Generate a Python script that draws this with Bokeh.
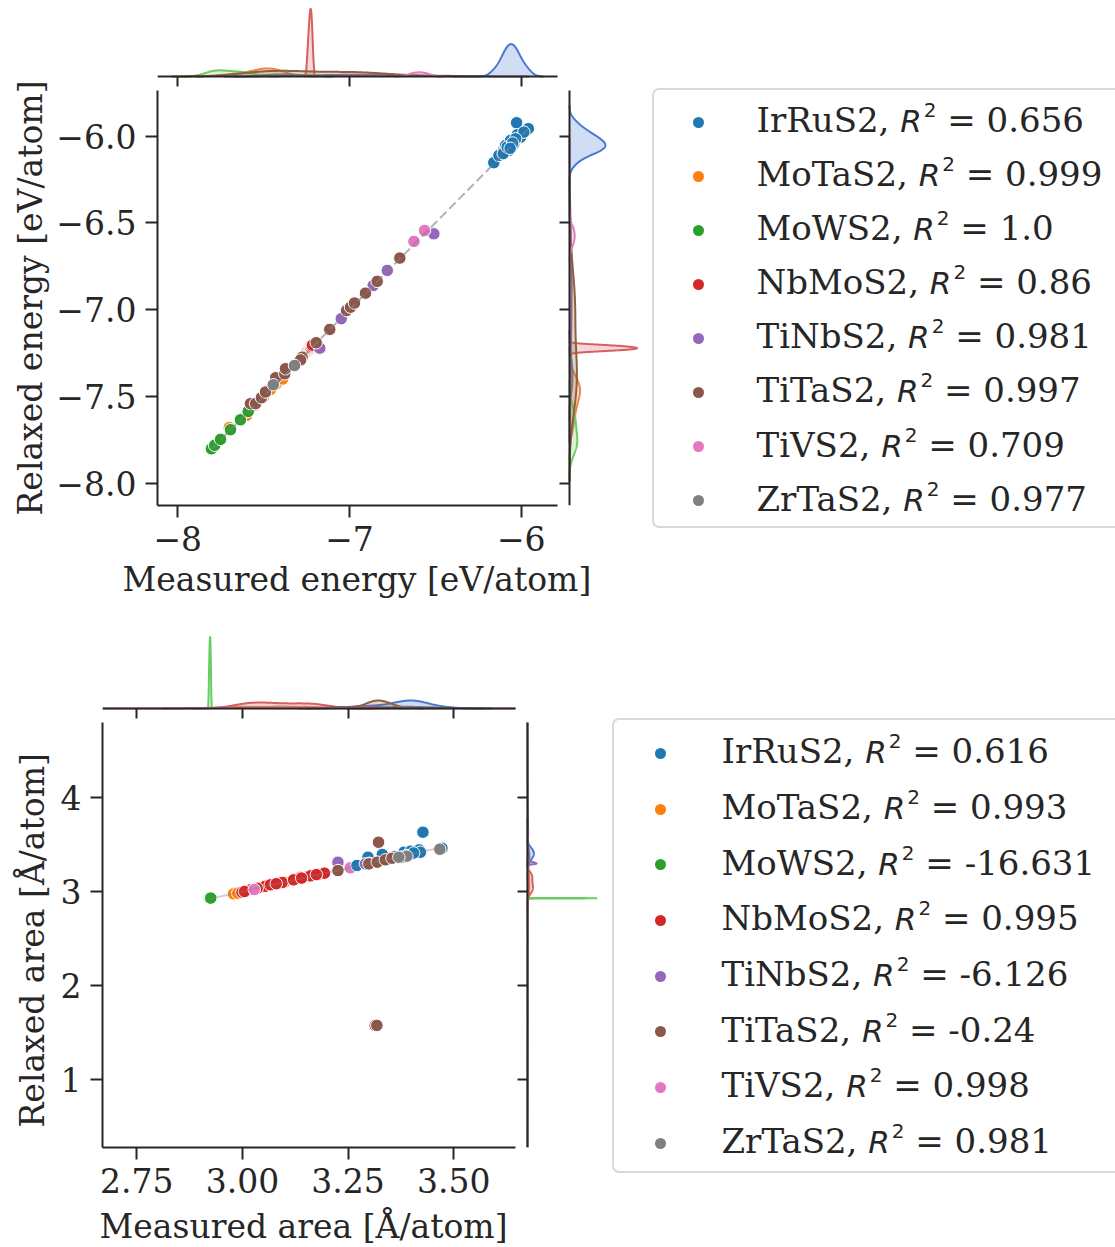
import numpy as np
from bokeh.plotting import figure
from bokeh.models import Range1d, FixedTicker, Div, ColumnDataSource, LinearAxis, Title
from bokeh.layouts import row, column
from bokeh.embed import file_html
from bokeh.resources import INLINE

# ---------------- data ----------------
materials = ["IrRuS2", "MoTaS2", "MoWS2", "NbMoS2", "TiNbS2", "TiTaS2", "TiVS2", "ZrTaS2"]
scatter_colors = ["#1f77b4", "#ff7f0e", "#2ca02c", "#d62728", "#9467bd", "#8c564b", "#e377c2", "#7f7f7f"]
kde_colors = ["#4878d0", "#ee854a", "#6acc64", "#d65f5f", "#956cb4", "#8c613c", "#dc7ec0", "#797979"]

energy_r2 = ["0.656", "0.999", "1.0", "0.86", "0.981", "0.997", "0.709", "0.977"]
area_r2 = ["0.616", "0.993", "-16.631", "0.995", "-6.126", "-0.24", "0.998", "0.981"]

# energy [eV/atom]: measured / relaxed
e_meas_IrRuS2 = [-6.027, -5.959, -6.023, -6.160, -6.130, -6.101, -6.091, -6.062, -6.043,
                 -6.072, -6.004, -5.985, -6.105, -6.082, -6.033, -6.050, -6.065]
e_relax_IrRuS2 = [-5.923, -5.957, -5.992, -6.153, -6.111, -6.078, -6.054, -6.025, -6.044,
                  -6.082, -6.006, -5.977, -6.101, -6.063, -6.015, -6.040, -6.070]
e_meas_MoTaS2 = [-7.70, -7.60, -7.55, -7.50, -7.48, -7.46, -7.43, -7.39]
e_relax_MoTaS2 = [-7.68, -7.61, -7.55, -7.50, -7.47, -7.46, -7.43, -7.40]
e_meas_MoWS2 = [-7.804, -7.785, -7.751, -7.693, -7.635, -7.590]
e_relax_MoWS2 = [-7.802, -7.782, -7.748, -7.692, -7.635, -7.587]
e_meas_NbMoS2 = [-7.243, -7.236, -7.231, -7.228, -7.224, -7.220, -7.216]
e_relax_NbMoS2 = [-7.238, -7.231, -7.226, -7.222, -7.217, -7.211, -7.205]
e_meas_TiNbS2 = [-7.173, -7.048, -6.862, -6.780, -6.509]
e_relax_TiNbS2 = [-7.222, -7.052, -6.861, -6.774, -6.563]
e_meas_TiTaS2 = [-7.577, -7.547, -7.513, -7.489, -7.430, -7.377, -7.373, -7.276, -7.285,
                 -7.194, -7.115, -7.017, -6.994, -6.971, -6.907, -6.839, -6.707]
e_relax_TiTaS2 = [-7.542, -7.542, -7.508, -7.475, -7.393, -7.370, -7.341, -7.274, -7.290,
                  -7.191, -7.114, -7.005, -6.986, -6.962, -6.905, -6.837, -6.703]
e_meas_TiVS2 = [-6.625, -6.563]
e_relax_TiVS2 = [-6.607, -6.544]
e_meas_ZrTaS2 = [-7.444, -7.320]
e_relax_ZrTaS2 = [-7.433, -7.322]

# area [A/atom]: measured / relaxed
a_meas_IrRuS2 = [3.427, 3.472, 3.297, 3.331, 3.382, 3.398, 3.418, 3.421, 3.271, 3.377, 3.389, 3.405, 3.360]
a_relax_IrRuS2 = [3.631, 3.461, 3.365, 3.394, 3.418, 3.429, 3.443, 3.418, 3.277, 3.365, 3.383, 3.410, 3.372]
a_meas_MoTaS2 = [2.979, 2.989, 3.050, 3.100, 3.137, 3.180]
a_relax_MoTaS2 = [2.975, 2.982, 3.050, 3.100, 3.152, 3.180]
a_meas_MoWS2 = [2.9215, 2.9228, 2.9240, 2.9250]
a_relax_MoWS2 = [2.9265, 2.9278, 2.9290, 2.9300]
a_meas_NbMoS2 = [2.999, 3.011, 3.021, 3.054, 3.066, 3.094, 3.121, 3.157, 3.161, 3.194, 3.005, 3.035, 3.080, 3.140, 3.175]
a_relax_NbMoS2 = [2.993, 3.011, 3.021, 3.056, 3.071, 3.096, 3.124, 3.163, 3.167, 3.195, 3.000, 3.035, 3.083, 3.143, 3.180]
a_meas_TiNbS2 = [3.226, 3.291, 3.300]
a_relax_TiNbS2 = [3.312, 3.294, 3.300]
a_meas_TiTaS2 = [3.226, 3.299, 3.319, 3.338, 3.354, 3.322, 3.314, 3.318]
a_relax_TiTaS2 = [3.223, 3.294, 3.312, 3.337, 3.354, 3.524, 1.574, 1.576]
a_meas_TiVS2 = [3.028, 3.255]
a_relax_TiVS2 = [3.021, 3.252]
a_meas_ZrTaS2 = [3.389, 3.467, 3.370]
a_relax_ZrTaS2 = [3.376, 3.450, 3.365]

energy_xticks = [-8, -7, -6]
energy_xtick_labels = ["\u22128", "\u22127", "\u22126"]
energy_yticks = [-8.0, -7.5, -7.0, -6.5, -6.0]
energy_ytick_labels = ["\u22128.0", "\u22127.5", "\u22127.0", "\u22126.5", "\u22126.0"]
area_xticks = [2.75, 3.0, 3.25, 3.5]
area_xtick_labels = ["2.75", "3.00", "3.25", "3.50"]
area_yticks = [1, 2, 3, 4]
area_ytick_labels = ["1", "2", "3", "4"]

e_meas = {"IrRuS2": e_meas_IrRuS2, "MoTaS2": e_meas_MoTaS2, "MoWS2": e_meas_MoWS2, "NbMoS2": e_meas_NbMoS2,
          "TiNbS2": e_meas_TiNbS2, "TiTaS2": e_meas_TiTaS2, "TiVS2": e_meas_TiVS2, "ZrTaS2": e_meas_ZrTaS2}
e_relax = {"IrRuS2": e_relax_IrRuS2, "MoTaS2": e_relax_MoTaS2, "MoWS2": e_relax_MoWS2, "NbMoS2": e_relax_NbMoS2,
           "TiNbS2": e_relax_TiNbS2, "TiTaS2": e_relax_TiTaS2, "TiVS2": e_relax_TiVS2, "ZrTaS2": e_relax_ZrTaS2}
a_meas = {"IrRuS2": a_meas_IrRuS2, "MoTaS2": a_meas_MoTaS2, "MoWS2": a_meas_MoWS2, "NbMoS2": a_meas_NbMoS2,
          "TiNbS2": a_meas_TiNbS2, "TiTaS2": a_meas_TiTaS2, "TiVS2": a_meas_TiVS2, "ZrTaS2": a_meas_ZrTaS2}
a_relax = {"IrRuS2": a_relax_IrRuS2, "MoTaS2": a_relax_MoTaS2, "MoWS2": a_relax_MoWS2, "NbMoS2": a_relax_NbMoS2,
           "TiNbS2": a_relax_TiNbS2, "TiTaS2": a_relax_TiTaS2, "TiVS2": a_relax_TiVS2, "ZrTaS2": a_relax_ZrTaS2}

# ---------------- style ----------------
FONT = "DejaVu Serif"
TXT = "#262626"
FS = "33px"


def kde_curve(vals, total, gridsize=200, cut=3.0):
    v = np.asarray(vals, dtype=float)
    n = v.size
    bw = v.std(ddof=1) * n ** (-1.0 / 5.0)
    grid = np.linspace(v.min() - cut * bw, v.max() + cut * bw, gridsize)
    z = (grid[:, None] - v[None, :]) / bw
    dens = np.exp(-0.5 * z ** 2).sum(axis=1) / (n * bw * np.sqrt(2 * np.pi))
    return grid, dens * n / total


def clip_curve(g, d, lo, hi):
    mask = (g >= lo) & (g <= hi)
    gg, dd = list(g[mask]), list(d[mask])
    if g[0] < lo < g[-1]:
        gg.insert(0, lo)
        dd.insert(0, float(np.interp(lo, g, d)))
    if g[0] < hi < g[-1]:
        gg.append(hi)
        dd.append(float(np.interp(hi, g, d)))
    return np.array(gg), np.array(dd)


def style_axis(ax, tick_out=12, labels=True):
    ax.axis_line_color = TXT
    ax.axis_line_width = 2
    ax.major_tick_line_color = TXT
    ax.major_tick_line_width = 2
    ax.major_tick_out = tick_out
    ax.major_tick_in = 0
    ax.minor_tick_out = 0
    ax.minor_tick_in = 0
    ax.major_label_text_font = FONT
    ax.major_label_text_color = TXT
    if labels:
        ax.major_label_text_font_size = FS
    else:
        ax.major_label_text_font_size = "0px"
        ax.major_label_standoff = 0


def joint_plot(meas, relax, draw_order, x_lim, y_lim, x_ticks, x_tick_labels, y_ticks, y_tick_labels,
               x_title, y_title, L, W, G, RW, T, TH, GAP, H, B,
               line_dash, line_alpha, xlab_offset, xlab_standoff, ylab_offset, ylab_standoff):
    total = sum(len(meas[m]) for m in materials)
    ppx = W / (x_lim[1] - x_lim[0])
    ppy = H / (y_lim[1] - y_lim[0])
    fw = W + G + RW
    fh = TH + GAP + H

    p = figure(frame_width=fw, frame_height=fh,
               x_range=Range1d(x_lim[0], x_lim[0] + fw / ppx),
               y_range=Range1d(y_lim[0], y_lim[0] + fh / ppy),
               min_border_left=L, min_border_right=0, min_border_top=T, min_border_bottom=B,
               toolbar_location=None, tools="", output_backend="svg")
    p.outline_line_color = None
    p.grid.visible = False
    p.background_fill_color = "white"
    p.border_fill_color = "white"
    p.title.visible = False

    style_axis(p.xaxis[0])
    style_axis(p.yaxis[0])
    p.xaxis.bounds = tuple(x_lim)
    p.yaxis.bounds = tuple(y_lim)
    p.xaxis.ticker = FixedTicker(ticks=x_ticks, minor_ticks=[])
    p.yaxis.ticker = FixedTicker(ticks=y_ticks, minor_ticks=[])
    p.xaxis.major_label_overrides = {t: s for t, s in zip(x_ticks, x_tick_labels)}
    p.yaxis.major_label_overrides = {t: s for t, s in zip(y_ticks, y_tick_labels)}
    p.xaxis.major_label_standoff = 8
    p.yaxis.major_label_standoff = 9

    # marginal densities
    cx = [kde_curve(meas[m], total) for m in materials]
    cy = [kde_curve(relax[m], total) for m in materials]
    top_end = 1.05 * max(d.max() for _, d in cx)
    right_end = 1.05 * max(d.max() for _, d in cy)
    p.extra_y_ranges = {"top": Range1d(-(GAP + H) * top_end / TH, top_end)}
    p.extra_x_ranges = {"right": Range1d(-(W + G) * right_end / RW, right_end)}

    top_axis = LinearAxis(fixed_location=y_lim[1] + GAP / ppy, bounds=tuple(x_lim),
                          ticker=FixedTicker(ticks=x_ticks, minor_ticks=[]),
                          major_label_overrides={tk: "" for tk in x_ticks})
    style_axis(top_axis, tick_out=10, labels=False)
    p.add_layout(top_axis, "below")
    right_axis = LinearAxis(fixed_location=x_lim[1] + G / ppx, bounds=tuple(y_lim),
                            ticker=FixedTicker(ticks=y_ticks, minor_ticks=[]),
                            major_label_overrides={tk: "" for tk in y_ticks})
    style_axis(right_axis, tick_out=10, labels=False)
    p.add_layout(right_axis, "left")

    for i, m in enumerate(materials):
        col = kde_colors[i]
        g, d = clip_curve(*cx[i], x_lim[0], x_lim[1])
        p.varea(x=g, y1=0, y2=d, fill_color=col, fill_alpha=0.25, y_range_name="top")
        p.line(g, d, line_color=col, line_width=2, y_range_name="top")
        g, d = clip_curve(*cy[i], y_lim[0], y_lim[1])
        p.harea(y=g, x1=0, x2=d, fill_color=col, fill_alpha=0.25, x_range_name="right")
        p.line(d, g, line_color=col, line_width=2, x_range_name="right")

    for m in draw_order:
        c = scatter_colors[materials.index(m)]
        src = ColumnDataSource(dict(x=meas[m], y=relax[m]))
        p.scatter("x", "y", source=src, size=12.5, fill_color=c, line_color="white", line_width=1)

    lo = min(min(meas[m]) for m in materials)
    hi = max(max(meas[m]) for m in materials)
    p.line([lo, hi], [lo, hi], line_color="gray", line_alpha=line_alpha, line_width=2, line_dash=line_dash)

    p.add_layout(Title(text=x_title, align="left", offset=xlab_offset, standoff=xlab_standoff,
                       text_font=FONT, text_font_size=FS, text_font_style="normal", text_color=TXT), "below")
    p.add_layout(Title(text=y_title, align="left", offset=ylab_offset, standoff=ylab_standoff,
                       text_font=FONT, text_font_size=FS, text_font_style="normal", text_color=TXT), "left")
    return p, T + TH + GAP + H + B


def legend_div(r2_values, width, height, box_left, box_top, box_h, marker_x, text_x, row0, spacing, base0):
    parts = [f'<div style="position:relative;width:{width}px;height:{height}px;overflow:hidden;margin:0;padding:0;">']
    parts.append(f'<div style="position:absolute;left:{box_left}px;top:{box_top}px;width:{width + 20}px;'
                 f'height:{box_h}px;border:2px solid #d9d9d9;border-radius:7px;box-sizing:border-box;"></div>')
    for i, m in enumerate(materials):
        cy = row0 + i * spacing
        parts.append(f'<div style="position:absolute;left:{marker_x - 5.5}px;top:{cy - 5.5}px;width:11px;height:11px;'
                     f'border-radius:50%;background:{scatter_colors[i]};"></div>')
        top = base0 + i * spacing - 31.5
        parts.append(
            f'<div style="position:absolute;left:{text_x}px;top:{top}px;white-space:nowrap;'
            f"font-family:'{FONT}';font-size:34px;line-height:40px;color:{TXT};\">"
            f"{m}, <span style=\"font-family:'DejaVu Sans';font-style:italic;font-size:31px;\">R</span>"
            f"<span style=\"font-family:'DejaVu Sans';font-size:20px;position:relative;top:-15px;margin-left:2px;\">2</span>"
            f" = {r2_values[i]}</div>")
    parts.append('</div>')
    return Div(text="".join(parts), width=width, height=height, margin=(0, 0, 0, 0),
               styles={"overflow": "hidden", "margin": "0", "padding": "0"})


fig_top, top_h = joint_plot(
    e_meas, e_relax,
    ["MoTaS2", "MoWS2", "NbMoS2", "TiNbS2", "TiVS2", "TiTaS2", "ZrTaS2", "IrRuS2"],
    (-8.118, -5.789), (-8.129, -5.737),
    energy_xticks, energy_xtick_labels, energy_yticks, energy_ytick_labels,
    "Measured energy [eV/atom]", "Relaxed energy [eV/atom]",
    L=157, W=400, G=12, RW=71, T=5, TH=71, GAP=14, H=415, B=110,
    line_dash="9 4", line_alpha=0.6,
    xlab_offset=-35, xlab_standoff=8, ylab_offset=-10, ylab_standoff=8)

fig_bottom, bot_h = joint_plot(
    a_meas, a_relax,
    ["MoTaS2", "MoWS2", "NbMoS2", "TiVS2", "IrRuS2", "TiNbS2", "TiTaS2", "ZrTaS2"],
    (2.669, 3.646), (0.277, 4.798),
    area_xticks, area_xtick_labels, area_yticks, area_ytick_labels,
    "Measured area [Å/atom]", "Relaxed area [Å/atom]",
    L=102, W=413, G=12, RW=73, T=18, TH=75, GAP=14, H=425, B=100,
    line_dash="solid", line_alpha=0.35,
    xlab_offset=-3, xlab_standoff=18, ylab_offset=20, ylab_standoff=12)

legend_top = legend_div(energy_r2, 475, top_h, 12, 88, 440, 58, 116.5, 122.3, 54.05, 131.7)
legend_bottom = legend_div(area_r2, 515, bot_h, 12, 103, 455, 60, 121.5, 138.3, 55.71, 147.7)

layout = column(row(fig_top, legend_top), row(fig_bottom, legend_bottom))

open("out.html", "w").write(file_html(layout, INLINE))
